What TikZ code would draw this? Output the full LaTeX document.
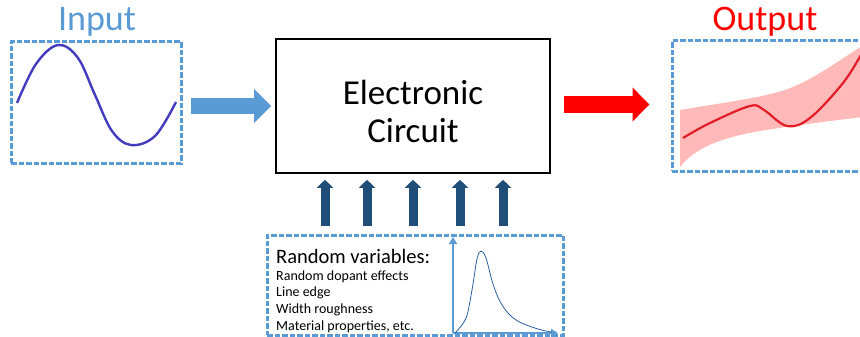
\documentclass[tikz,border=0pt]{standalone}
\usepackage{fontspec}
\setmainfont{Carlito}
\usetikzlibrary{
    arrows.meta,
    calc,
    positioning
}

\definecolor{lightblue}{RGB}{91,155,213}
\definecolor{sineblue}{RGB}{68,60,190}
\definecolor{darkblue}{RGB}{31,78,121}
\definecolor{curveblue}{RGB}{46,95,160}
\definecolor{bandpink}{RGB}{255,185,185}
\definecolor{curvered}{RGB}{226,30,40}

\tikzset{
    dashbox/.style={draw=lightblue, line width=3pt, dash pattern=on 5.5pt off 2pt, inner sep=0pt},
    title/.style={font=\fontsize{36}{40}\selectfont, inner sep=0pt},
    fatarrow/.style={line width=16pt, -{Triangle[length=17pt,width=33pt]}},
    uparrow/.style={draw=darkblue, line width=9pt, -{Triangle[length=8pt,width=16pt]}},
    axis/.style={draw=lightblue, line width=1.8pt, -{Triangle[length=7pt,width=8pt]}}
}

\begin{document}
\begin{tikzpicture}[x=1pt, y=-1pt]
    \clip (0,0) rectangle (860,337);
    % input
    \node[dashbox, minimum width=170pt, minimum height=121pt] (in) at (96,102.5) {};
    \node[title, text=lightblue] (intitle) at (97,22) {Input};
    \draw[sineblue, line width=2.4pt] plot[smooth, tension=0.6] coordinates
        {(17,103) (36,64) (58,45) (78,58) (95,95) (112,131) (131,145) (155,136) (176,102)};
    % circuit
    \node[draw, line width=1.6pt, minimum width=274pt, minimum height=134pt] (circ) at (413,106) {};
    \node[align=center, inner sep=0pt, font=\fontsize{35}{38}\selectfont] (circtext)
        at ([yshift=-5pt]circ.center) {Electronic\\Circuit};
    % output
    \node[dashbox, minimum width=193pt, minimum height=130pt] (out) at (768.5,106) {};
    \node[title, text=red] (outtitle) at (765,22) {Output};
    \fill[bandpink] (680,110) .. controls (720,103) and (770,97) .. (793,87)
        .. controls (815,78) and (840,60) .. (862,46) -- (862,117)
        .. controls (830,121) and (790,126) .. (760,131)
        .. controls (720,138) and (695,148) .. (680,167) -- cycle;
    \draw[curvered, line width=2.2pt] plot[smooth, tension=0.6] coordinates
        {(683,138) (710,123) (750,106) (764,110) (787,126) (810,118) (843,83) (862,53)};
    % random variables
    \node[dashbox, minimum width=296pt, minimum height=100pt] (rv) at (415,285) {};
    \node[anchor=west, inner sep=0pt, font=\fontsize{20.5}{22}\selectfont] (rvtitle) at (276,256) {Random variables:};
    \node[anchor=north west, inner sep=0pt, align=left, font=\fontsize{14}{16.6}\selectfont]
        (rvlist) at ([yshift=-7pt]rvtitle.south west)
        {Random dopant effects\\Line edge\\Width roughness\\Material properties, etc.};
    \coordinate (org) at (453,333);
    \draw[axis] (org) -- (453,237);
    \draw[axis] (org) -- (558,333);
    \draw[curveblue, line width=0.8pt] plot[smooth, tension=0.6] coordinates
        {(455,333) (466,318) (472,290) (477,259) (481,251) (486,258) (493,284) (502,305) (516,320) (538,329) (552,332)};
    % arrows
    \draw[fatarrow, lightblue, shorten <=8pt, shorten >=4pt] (in.east |- circ.west) -- (circ.west);
    \draw[fatarrow, red, shorten <=13pt, shorten >=21pt] ([yshift=1.5pt]circ.east) -- ([yshift=1.5pt]circ.east -| out.west);
    \foreach \x in {325,367,413,460,503}
        \draw[uparrow, shorten <=8pt, shorten >=6pt] (\x,0 |- rv.north) -- (\x,0 |- circ.south);
\end{tikzpicture}
\end{document}
